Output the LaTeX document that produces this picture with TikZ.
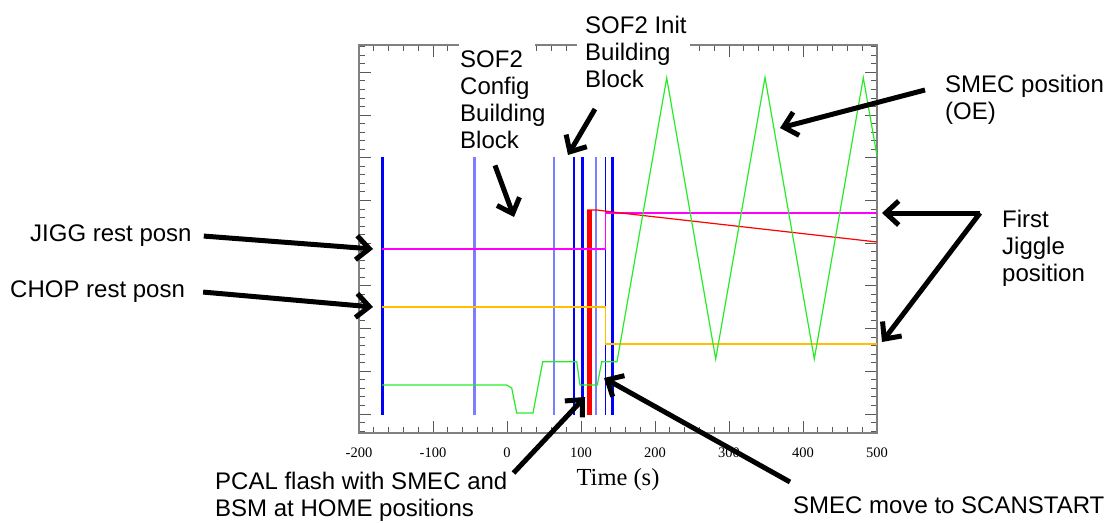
\documentclass[tikz,border=0pt]{standalone}
\usepackage{fontspec}
\setmainfont{Liberation Sans}
\newfontfamily\plotfont{Liberation Serif}
\usetikzlibrary{arrows.meta,calc}
\definecolor{plotgreen}{RGB}{40,235,40}
\definecolor{plotmag}{RGB}{255,0,255}
\definecolor{plotorange}{RGB}{255,190,0}
\definecolor{plotblue}{RGB}{0,0,255}
\definecolor{paleblue}{RGB}{125,125,255}
\tikzset{
	bigarrow/.style={line width=5pt,-{Straight Barb[length=13pt,width=24pt]}},
	lbl/.style={inner sep=0pt,anchor=north west,align=left,font=\fontsize{24}{27}\selectfont},
	ticklbl/.style={inner sep=0pt,anchor=base,font=\plotfont\fontsize{14.5}{16}\selectfont},
	tickline/.style={line width=1pt,color=black!65},
	trace/.style={line width=1.2pt}
}

\begin{document}
\begin{tikzpicture}[x=1pt,y=-1pt]
			%%%%% START %%%%%
			\useasboundingbox (0,0) rectangle (1110,522);
			
			% frame and ticks
			\foreach \t in {-200,-180,...,500}
				\draw[tickline] ({507+0.74*\t},433) -- ++(0,-6) ({507+0.74*\t},45) -- ++(0,6);
			\foreach \t in {-200,-100,...,500}
				\draw[tickline] ({507+0.74*\t},433) -- ++(0,-12) ({507+0.74*\t},45) -- ++(0,12);
			\foreach \j in {-2,...,43}
				\draw[tickline] (359,{414-8.54*\j}) -- ++(6,0) (877,{414-8.54*\j}) -- ++(-6,0);
			\foreach \j in {0,5,...,40}
				\draw[tickline] (359,{414-8.54*\j}) -- ++(12,0) (877,{414-8.54*\j}) -- ++(-12,0);
			\draw[line width=1.5pt, color=black!50] (359,45) rectangle (877,433);
			
			\foreach \t in {-200,-100,...,500}
				\node[ticklbl] (tk\t) at ({507+0.74*\t},457) {\t};
			\node[font=\plotfont\fontsize{24.5}{26}\selectfont, inner sep=0pt] (xlab) at (618,480) {Time (s)};
			
			% building block markers
			\draw[line width=2.5pt, color=plotblue] (382.5,157) -- (382.5,415);
			\draw[line width=3pt, color=paleblue] (474,157) -- (474,415);
			\draw[line width=1.8pt, color=paleblue] (554,157) -- (554,415);
			\draw[line width=1.6pt, color=plotblue] (574,157) -- (574,415);
			\draw[line width=3pt, color=plotblue] (582.5,157) -- (582.5,415);
			\draw[line width=1.8pt, color=paleblue] (596,157) -- (596,415);
			\draw[line width=1.6pt, color=plotblue] (605.5,157) -- (605.5,415);
			\draw[line width=3pt, color=plotblue] (612,157) -- (612,415);
			\fill[red] (587,210) rectangle (592,415);
			
			% traces
			\draw[trace, color=plotmag] (382,249) -- (605.5,249) -- (605.5,213) -- (877,213);
			\draw[trace, color=plotorange] (382,307) -- (605.5,307) -- (605.5,344) -- (877,344);
			\draw[trace, color=red] (587,210) -- (597,210) -- (612,212) -- (877,242);
			\draw[trace, color=plotgreen] (382,385) -- (506.7,385) -- (511.7,388) -- (516.7,413)
				-- (533,413) -- (542.7,361.7) -- (576.7,361.7) -- (580,385) -- (597.3,385)
				-- (601.7,361.7) -- (617,361.7) -- (666.7,78) -- (715.7,359) -- (765,77.5)
				-- (814.3,359) -- (863.3,77.7) -- (877,156);
			
			% labels
			\fill[white] (459,36) rectangle (535,59);
			\fill[white] (577,36) rectangle (690,59);
			
			\node[lbl] (jigg) at (30,225) {JIGG rest posn};
			\node[lbl] (chop) at (10,281) {CHOP rest posn};
			\node[lbl] (config) at (460,51) {SOF2\\Config\\Building\\Block};
			\node[lbl] (init) at (585,16) {SOF2 Init\\Building\\Block};
			\node[lbl] (smecpos) at (945,75) {SMEC position\\(OE)};
			\node[lbl] (first) at (1002,209.5) {First\\Jiggle\\position};
			\node[lbl] (pcal) at (215,472) {PCAL flash with SMEC and\\BSM at HOME positions};
			\node[lbl] (scan) at (793,497) {SMEC move to SCANSTART};
			
			\coordinate (jiggtip) at (373,249);
			\coordinate (choptip) at (373,307);
			\coordinate (cfgtip) at (514,217);
			\coordinate (inittip) at (568,155);
			\coordinate (smectip) at (780,128);
			\coordinate (firstcorner) at ([shift={(-22pt,-3.5pt)}]first.north west);
			\coordinate (firsttipa) at (882,213);
			\coordinate (firsttipb) at (882,342);
			\coordinate (pcaltip) at (585,397);
			\coordinate (scantip) at (604,378);
			
			\draw[bigarrow] ([xshift=12pt]jigg.east) -- (jiggtip);
			\draw[bigarrow] ([xshift=18pt]chop.east) -- (choptip);
			\draw[bigarrow] ([shift={(35pt,-16pt)}]config.south west) -- (cfgtip);
			\draw[bigarrow] ([shift={(10pt,-21pt)}]init.south west) -- (inittip);
			\draw[bigarrow] ([shift={(-20pt,-15pt)}]smecpos.north west) -- (smectip);
			\draw[bigarrow] (firstcorner) -- (firsttipa);
			\draw[bigarrow] (firstcorner) -- (firsttipb);
			\draw[bigarrow] ([shift={(6pt,-1pt)}]pcal.north east) -- (pcaltip);
			\draw[bigarrow] ([shift={(-3pt,15pt)}]scan.north west) -- (scantip);
			
			%%%%% END %%%%%
		\end{tikzpicture}
\end{document}
